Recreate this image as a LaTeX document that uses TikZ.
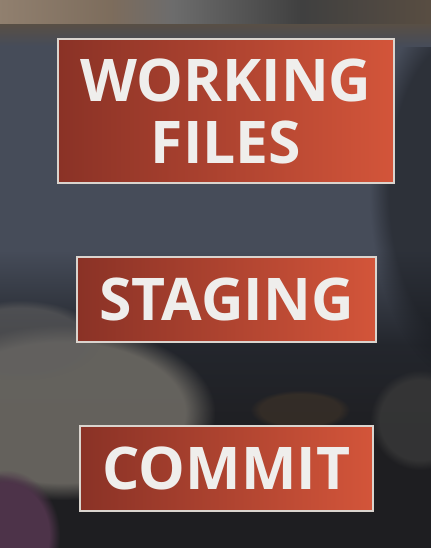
\documentclass[tikz,border=0pt]{standalone}
\usepackage{fontspec}
\setmainfont{Open Sans}
\usepackage{tikz}
\usetikzlibrary{positioning, fadings}

\definecolor{slate}{HTML}{464C59}
\definecolor{deskdark}{HTML}{1E1E21}
\definecolor{chairgrey}{HTML}{6C6963}
\definecolor{sleeve}{HTML}{4D3349}
\definecolor{boxdark}{HTML}{8A3226}
\definecolor{boxlight}{HTML}{D3553A}
\definecolor{boxedge}{HTML}{DAD4CE}
\definecolor{labelwhite}{HTML}{EFEEEC}

% wall and shelf behind the screen
\pgfdeclarehorizontalshading{wallstrip}{100bp}{
  color(0bp)=(gray!80); color(8bp)=(gray!65!brown!80!white); color(38bp)=(gray!70!brown!85!black);
  color(45bp)=(gray!85!black); color(60bp)=(black!50!gray); color(80bp)=(black!60!brown!60!gray);
  color(100bp)=(black!65!brown!70!gray)}

\begin{document}
\begin{tikzpicture}[x=0.02cm, y=-0.02cm,
  stagebox/.style={draw=boxedge, line width=0.7pt, left color=boxdark, right color=boxlight,
    inner sep=0pt, text=labelwhite, font=\bfseries\fontsize{33.5}{35.3}\selectfont, align=center},
  blob/.style={path fading=circle with fuzzy edge 20 percent}
]

\useasboundingbox (0,0) rectangle (431,548);

% background: blurred screen, chair and desk
\fill[slate] (0,0) rectangle (431,548);
\shade[top color=slate, bottom color=black!50!slate] (0,250) rectangle (431,345);
\shade[top color=black!50!slate, bottom color=deskdark] (0,345) rectangle (431,440);
\fill[deskdark] (0,440) rectangle (431,548);
\fill[blob, black!70!slate, opacity=0.5] (370,0) rectangle (560,380);
\shade[shading=wallstrip] (0,0) rectangle (431,24);
\shade[top color=black!45!gray!85!brown, bottom color=slate] (0,24) rectangle (431,46);
\fill[blob, chairgrey, opacity=0.9] (-90,325) rectangle (215,500);
\fill[blob, chairgrey!70!slate, opacity=0.6] (-60,300) rectangle (100,380);
\fill[blob, gray!45!black, opacity=0.8] (370,370) rectangle (470,470);
\fill[blob, brown!30!black!80!gray, opacity=0.5] (250,390) rectangle (350,430);
\fill[blob, sleeve] (-50,470) rectangle (60,600);

% the three stages
\node[stagebox, minimum width=6.72cm, minimum height=2.88cm] (work) at (226,111) {WORKING\\FILES};
\node[stagebox, minimum width=5.98cm, minimum height=1.70cm] (stage) at (226.5,299.5) {STAGING};
\node[stagebox, minimum width=5.86cm, minimum height=1.70cm] (commit) at (226.5,468.5) {COMMIT};

\end{tikzpicture}
\end{document}
